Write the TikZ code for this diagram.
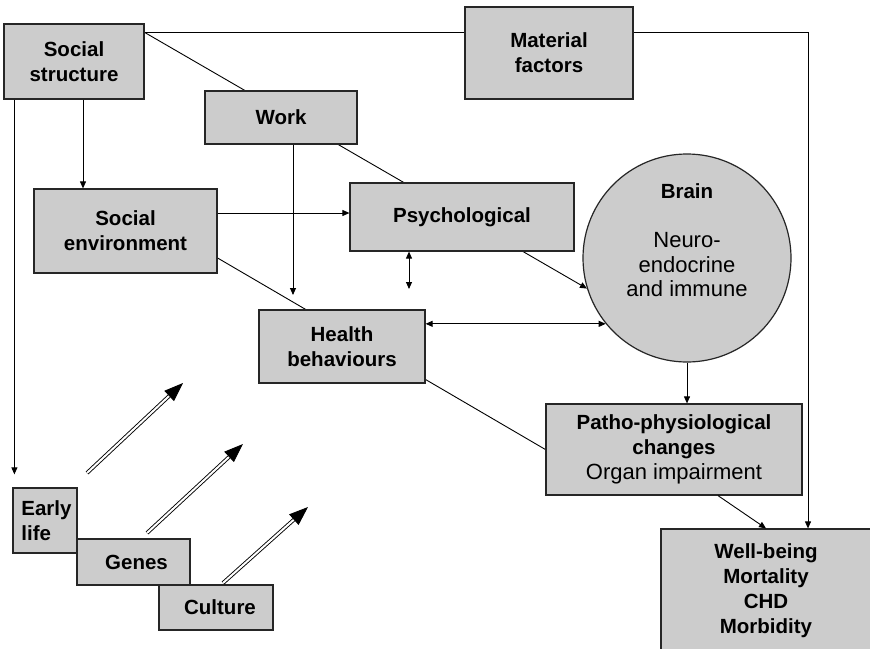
\documentclass[tikz,border=0pt]{standalone}
\usepackage{fontspec}
\setmainfont{Liberation Sans}
\usetikzlibrary{arrows.meta,backgrounds}

\begin{document}
\begin{tikzpicture}
  [
    x=1pt, y=-1pt,
    >={Triangle[length=7pt,width=6pt]},
    factor/.style={draw=black!85, fill=black!20, line width=1.2pt, inner sep=0pt,
                   align=center, font=\fontsize{20.5}{25}\selectfont\bfseries},
    link/.style={line width=0.9pt},
    link arrow/.style={link, ->},
    link both/.style={link, <->},
    big arrow/.style={double, double distance=2pt, line width=0.9pt,
                      -{Triangle[length=19pt,width=14pt]}}
  ]
  \useasboundingbox (0,0) rectangle (870,648);

  % factors
  \node (ss)      [factor, minimum width=140pt, minimum height=75pt]  at (74,61.5)  {Social\\structure};
  \node (mf)      [factor, minimum width=168pt, minimum height=92pt]  at (549,53)   {Material\\factors};
  \node (work)    [factor, minimum width=152pt, minimum height=53pt]  at (281,117.5) {Work};
  \node (se)      [factor, minimum width=183pt, minimum height=84pt]  at (125.5,231) {Social\\environment};
  \node (psych)   [factor, minimum width=224pt, minimum height=68pt]  at (462,217)  {Psychological};
  \node (hb)      [factor, minimum width=166pt, minimum height=73pt]  at (342,346.5) {Health\\behaviours};
  \node (brain)   [factor, shape=circle, minimum size=208pt]          at (687,258)  {};
  \node (brain text) [align=center, font=\fontsize{22}{24.5}\selectfont] at (687,240)
        {{\fontsize{20.5}{25}\selectfont\bfseries Brain}\\[25pt]Neuro-\\endocrine\\and immune};
  \node (patho)   [factor, minimum width=256pt, minimum height=91pt]  at (674,449.5)
        {Patho-physiological\\changes\\{\fontsize{22}{25}\selectfont\mdseries Organ impairment}};
  \node (wb)      [factor, minimum width=210pt, minimum height=124pt] at (766,591)
        {Well-being\\Mortality\\CHD\\Morbidity};
  \node (early)   [factor, align=left, minimum width=64pt, minimum height=65pt] at (45,520.5) {\hspace{3pt}Early\\\hspace{3pt}life};
  \node (genes)   [factor, minimum width=113pt, minimum height=46pt]  at (133.5,562) {\hspace{6pt}Genes};
  \node (culture) [factor, minimum width=114pt, minimum height=45pt]  at (216,607.5) {\hspace{8pt}Culture};

  % free ends
  \coordinate (ss out)     at ([yshift=-9pt]ss.north east);
  \coordinate (wb in)      at ([xshift=42pt]wb.north);
  \coordinate (se out)     at ([yshift=-27pt]se.east);
  \coordinate (early in)   at ([xshift=2pt,yshift=13pt]early.north west);
  \coordinate (hb in)      at (293,295);
  \coordinate (psych down) at (409,289);
  \coordinate (up1 start)  at (87,473);
  \coordinate (up1 end)    at (183,383);
  \coordinate (up2 start)  at (147,533);
  \coordinate (up2 end)    at (243,444);
  \coordinate (up3 start)  at (223,583);
  \coordinate (up3 end)    at (308,507);

  \begin{scope}[on background layer]
    \draw[link arrow] (ss out) -| (wb in);
    \draw[link arrow] (ss out) -- (brain.197);
    \draw[link] (se out) -- (patho.west);
  \end{scope}

  \path
  ([xshift=9pt]ss.south)         edge [link arrow] ([xshift=9pt]ss.south |- se.north)
  ([xshift=11pt]ss.south west)   edge [link arrow] (early in)
  (work.south -| hb in)          edge [link arrow] (hb in)
  ([yshift=18pt]se.east)         edge [link arrow] ([yshift=18pt]se.east -| psych.west)
  (psych.south -| psych down)    edge [link both]  (psych down)
  (hb.east |- brain.219)         edge [link both]  (brain.219)
  (brain.south)                  edge [link arrow] (brain.south |- patho.north)
  ([xshift=44pt]patho.south)     edge [link arrow] (wb.north)
  ;

  \path
  (up1 start) edge [big arrow] (up1 end)
  (up2 start) edge [big arrow] (up2 end)
  (up3 start) edge [big arrow] (up3 end)
  ;

\end{tikzpicture}
\end{document}
